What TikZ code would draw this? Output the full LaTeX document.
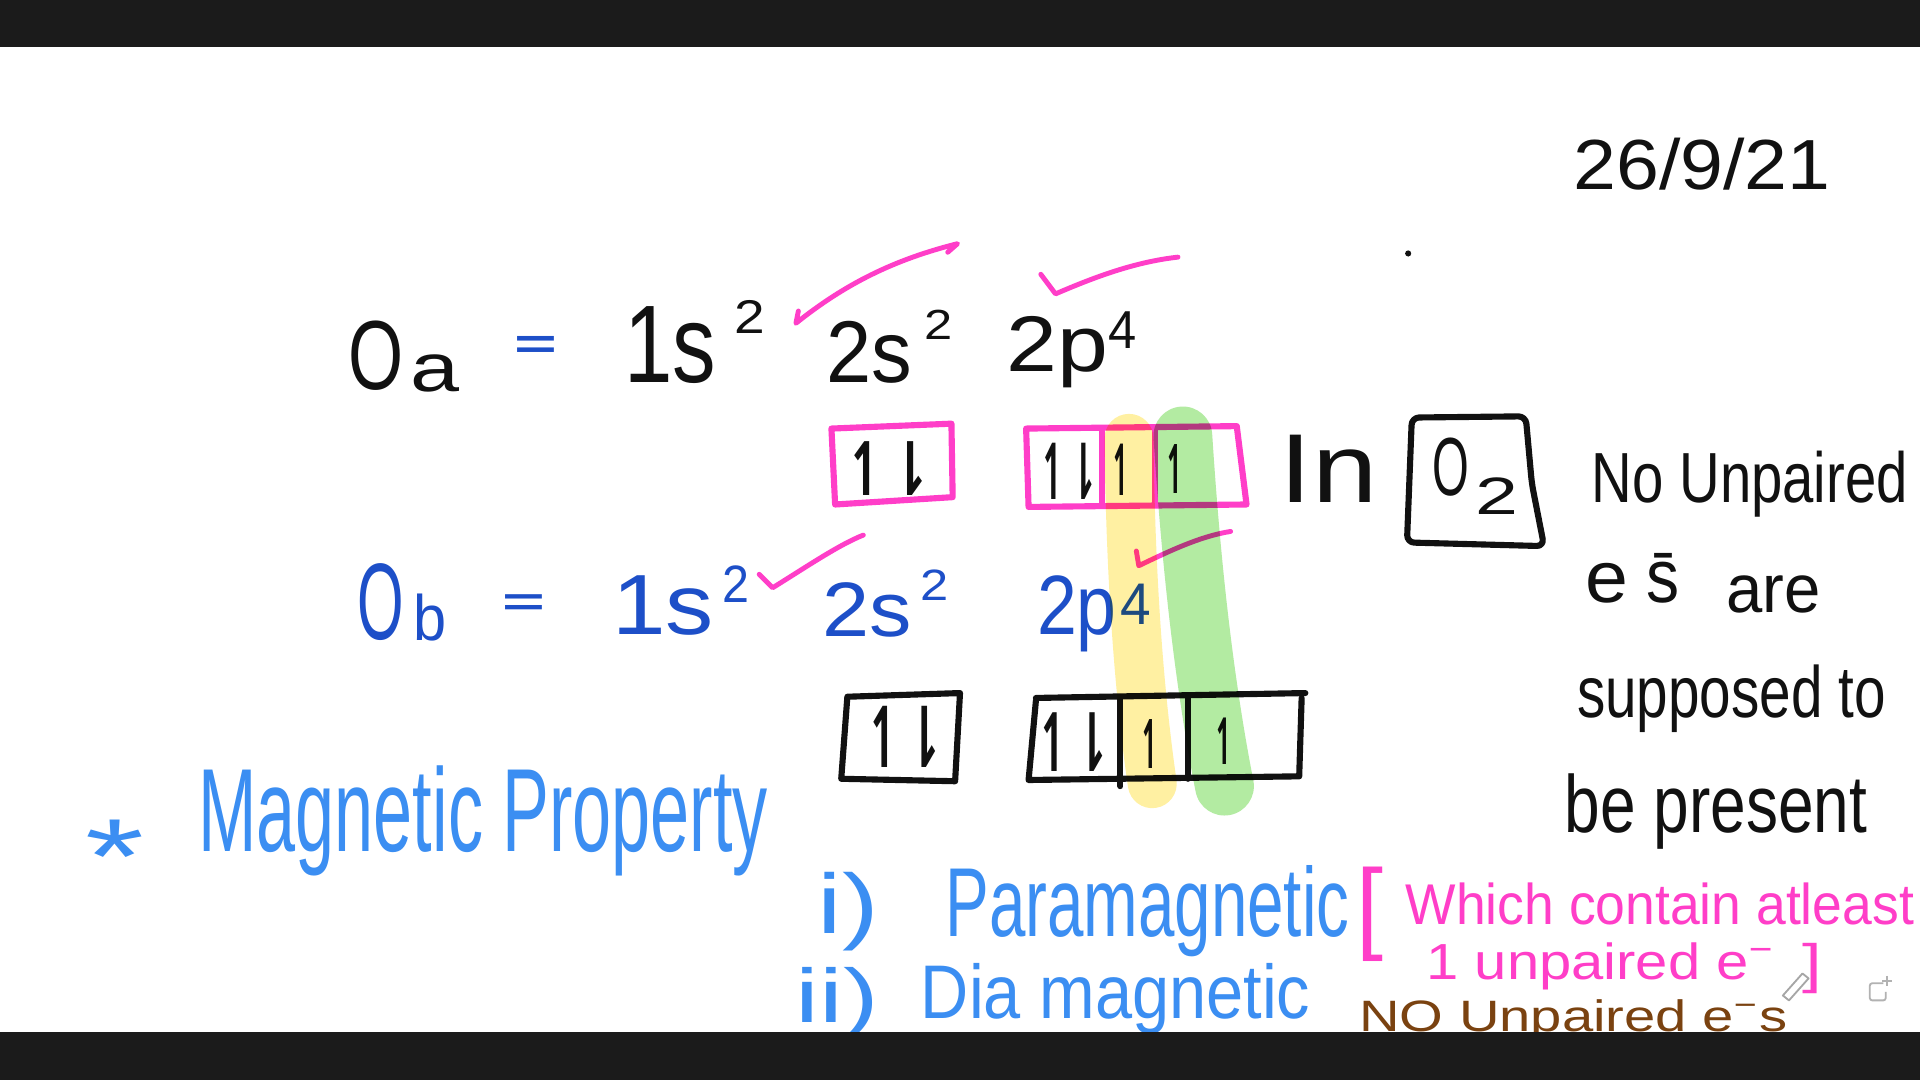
\documentclass[tikz,border=0pt]{standalone}
\usepackage{fontspec}
\usepackage{graphicx}
\setmainfont{Liberation Sans}
\newfontfamily\symf{DejaVu Sans}
\newcommand{\hwbox}[3]{\resizebox{#1pt}{#2pt}{#3}}
\definecolor{inkk}{HTML}{111111}
\definecolor{navy}{HTML}{1D4FC8}
\definecolor{lblue}{HTML}{3B8EF2}
\definecolor{pinkk}{HTML}{FF3EC8}
\definecolor{brownk}{HTML}{7A4210}
\definecolor{hlyel}{HTML}{FFF0A2}
\definecolor{hlgrn}{HTML}{B3EBA2}
\definecolor{barc}{HTML}{1B1B1B}
\begin{document}
\begin{tikzpicture}[x=1pt,y=-1pt,
  hw/.style={inner sep=0pt,outer sep=0pt,anchor=base west},
  kc/.style={text=inkk}, nb/.style={text=navy}, lb/.style={text=lblue},
  pk/.style={text=pinkk}, br/.style={text=brownk},
  ink/.style={line width=5pt,line cap=round,line join=round},
  pen/.style={line width=4pt,line cap=round,line join=round,draw=pinkk}]
\useasboundingbox (0,0) rectangle (1568,882);
\fill[white] (0,0) rectangle (1568,882);

% date and dot
\node[hw,kc] (date) at (1285,155) {\hwbox{210}{42}{26/9/21}};
\fill[inkk] (1150,207) circle (2.5);

% line 1 (O_a)
\node[hw,kc] (oa) at (285,318) {\hwbox{45}{56}{O}};
\node[hw,kc] (oasub) at (335,320) {\hwbox{40}{30}{a}};
\node[hw,nb] (eq1) at (420,293) {\hwbox{35}{18}{\bfseries =}};
\node[hw,kc] (a1s) at (510,312) {\hwbox{75}{62}{1s}};
\node[hw,kc] (a1sx) at (600,272) {\hwbox{25}{27}{2}};
\node[hw,kc] (a2s) at (675,312) {\hwbox{70}{50}{2s}};
\node[hw,kc] (a2sx) at (755,277) {\hwbox{23}{24}{2}};
\node[hw,kc] (a2p) at (822,303) {\hwbox{83}{45}{2p}};
\node[hw,kc] (a2px) at (905,285) {\hwbox{23}{30}{4}};

% pink checks line 1
\draw[pen] (652,254) -- (650,264) .. controls (690,232) and (730,212) .. (782,199) -- (774,206);
\draw[pen] (850,224) -- (862,240) .. controls (890,228) and (925,214) .. (962,210);

% pink boxes row 1
\draw[ink,draw=pinkk] (679,350) -- (777,346) -- (778,406) -- (682,412) -- cycle;
\node[hw,kc] (ra1) at (690,405) {\hwbox{72}{44}{\symf\bfseries ↿⇂}};
\draw[ink,draw=pinkk] (838,350) -- (1010,348) -- (1018,412) -- (840,414) -- cycle;
\draw[ink,draw=pinkk] (900,352) -- (900,412);
\draw[ink,draw=pinkk] (943,350) -- (943,412);
\node[hw,kc] (rb1) at (848,408) {\hwbox{50}{46}{\symf\bfseries ↿⇂}};
\node[hw,kc] (rb2) at (906,405) {\hwbox{20}{42}{\symf\bfseries ↿}};
\node[hw,kc] (rb3) at (950,403) {\hwbox{20}{40}{\symf\bfseries ↿}};

% In O2
\node[hw,kc] (inw) at (1045,410) {\hwbox{80}{55}{In}};
\draw[ink,draw=inkk,rounded corners=6pt] (1153,341) -- (1246,340) -- (1251,395) -- (1261,446) -- (1149,443) -- cycle;
\node[hw,kc] (o2o) at (1170,405) {\hwbox{30}{47}{O}};
\node[hw,kc] (o2s) at (1205,420) {\hwbox{35}{30}{2}};

% right column
\node[hw,kc] (r1) at (1300,410) {\hwbox{258}{42}{No Unpaired}};
\node[hw,kc] (r2a) at (1295,492) {\hwbox{35}{32}{e}};
\node[hw,kc] (r2b) at (1345,492) {\hwbox{27}{40}{\={s}}};
\node[hw,kc] (r2c) at (1410,500) {\hwbox{77}{30}{are}};
\node[hw,kc] (r3) at (1288,586) {\hwbox{252}{43}{supposed to}};
\node[hw,kc] (r4) at (1278,680) {\hwbox{247}{48}{be present}};

% line 2 (O_b)
\node[hw,nb] (ob) at (292,522) {\hwbox{38}{62}{O}};
\node[hw,nb] (obsub) at (338,523) {\hwbox{27}{38}{b}};
\node[hw,nb] (eq2) at (410,503) {\hwbox{35}{17}{\bfseries =}};
\node[hw,nb] (b1s) at (500,518) {\hwbox{83}{48}{1s}};
\node[hw,nb] (b1sx) at (590,492) {\hwbox{22}{30}{2}};
\node[hw,nb] (b2s) at (672,520) {\hwbox{73}{44}{2s}};
\node[hw,nb] (b2sx) at (752,490) {\hwbox{23}{25}{2}};
\node[hw,nb] (b2p) at (847,518) {\hwbox{65}{48}{2p}};
\node[hw,nb] (b2px) at (915,510) {\hwbox{25}{33}{4}};

% pink checks line 2
\draw[pen] (620,469) -- (631,480) .. controls (660,462) and (685,445) .. (705,437);
\draw[pen] (928,450) -- (930,462) .. controls (955,450) and (980,438) .. (1005,434);

% black boxes row 2
\draw[ink,draw=inkk] (692,569) -- (784,566) -- (780,638) -- (687,636) -- cycle;
\node[hw,kc] (rc1) at (706,627) {\hwbox{66}{50}{\symf\bfseries ↿⇂}};
\draw[ink,draw=inkk] (846,570) -- (1066,566);
\draw[ink,draw=inkk] (846,572) -- (840,637) -- (1061,634) -- (1063,570);
\draw[ink,draw=inkk] (915,570) -- (915,642);
\draw[ink,draw=inkk] (970,568) -- (970,636);
\node[hw,kc] (rd1) at (846,630) {\hwbox{62}{48}{\symf\bfseries ↿⇂}};
\node[hw,kc] (rd2) at (930,628) {\hwbox{20}{40}{\symf\bfseries ↿}};
\node[hw,kc] (rd3) at (990,624) {\hwbox{20}{38}{\symf\bfseries ↿}};

% highlights
\begin{scope}[blend mode=multiply]
\draw[hlyel,line width=40pt,line cap=round] (922,358) .. controls (923,450) and (928,550) .. (941,640);
\draw[hlgrn,line width=48pt,line cap=round] (966,356) .. controls (972,450) and (982,550) .. (1000,642);
\end{scope}

% magnetic property
\node[hw,lb] (star) at (70,730) {\hwbox{48}{60}{*}};
\node[hw,lb] (magp) at (162,695) {\hwbox{465}{70}{Magnetic Property}};
\node[hw,lb] (p1) at (668,762) {\hwbox{50}{50}{i)}};
\node[hw,lb] (para) at (772,765) {\hwbox{330}{58}{Paramagnetic}};
\node[hw,lb] (p2) at (650,835) {\hwbox{68}{45}{ii)}};
\node[hw,lb] (dia) at (752,832) {\hwbox{318}{45}{Dia magnetic}};

% pink bracket note
\node[hw,pk] (lbr) at (1108,768) {\hwbox{22}{60}{[}};
\node[hw,pk] (w1) at (1148,755) {\hwbox{415}{34}{Which contain atleast}};
\node[hw,pk] (w2) at (1165,800) {\hwbox{285}{30}{1 unpaired e\textsuperscript{−}}};
\node[hw,pk] (rbr) at (1472,802) {\hwbox{16}{32}{]}};

% brown note
\node[hw,br] (nop) at (1110,842) {\hwbox{350}{26}{NO Unpaired e\textsuperscript{−}s}};

% UI icons
\draw[gray!70,line width=1.5pt,line join=round] (1456,813) -- (1472,795) -- (1477,799) -- (1461,817) -- cycle;
\draw[gray!60,line width=1.5pt,rounded corners=2pt] (1538,803) -- (1527,803) -- (1527,817) -- (1540,817) -- (1540,810);
\draw[gray!60,line width=1.2pt] (1541,797) -- (1541,805) (1537,801) -- (1545,801);

% bars
\fill[barc] (0,0) rectangle (1568,38);
\fill[barc] (0,843) rectangle (1568,882);
\end{tikzpicture}
\end{document}
